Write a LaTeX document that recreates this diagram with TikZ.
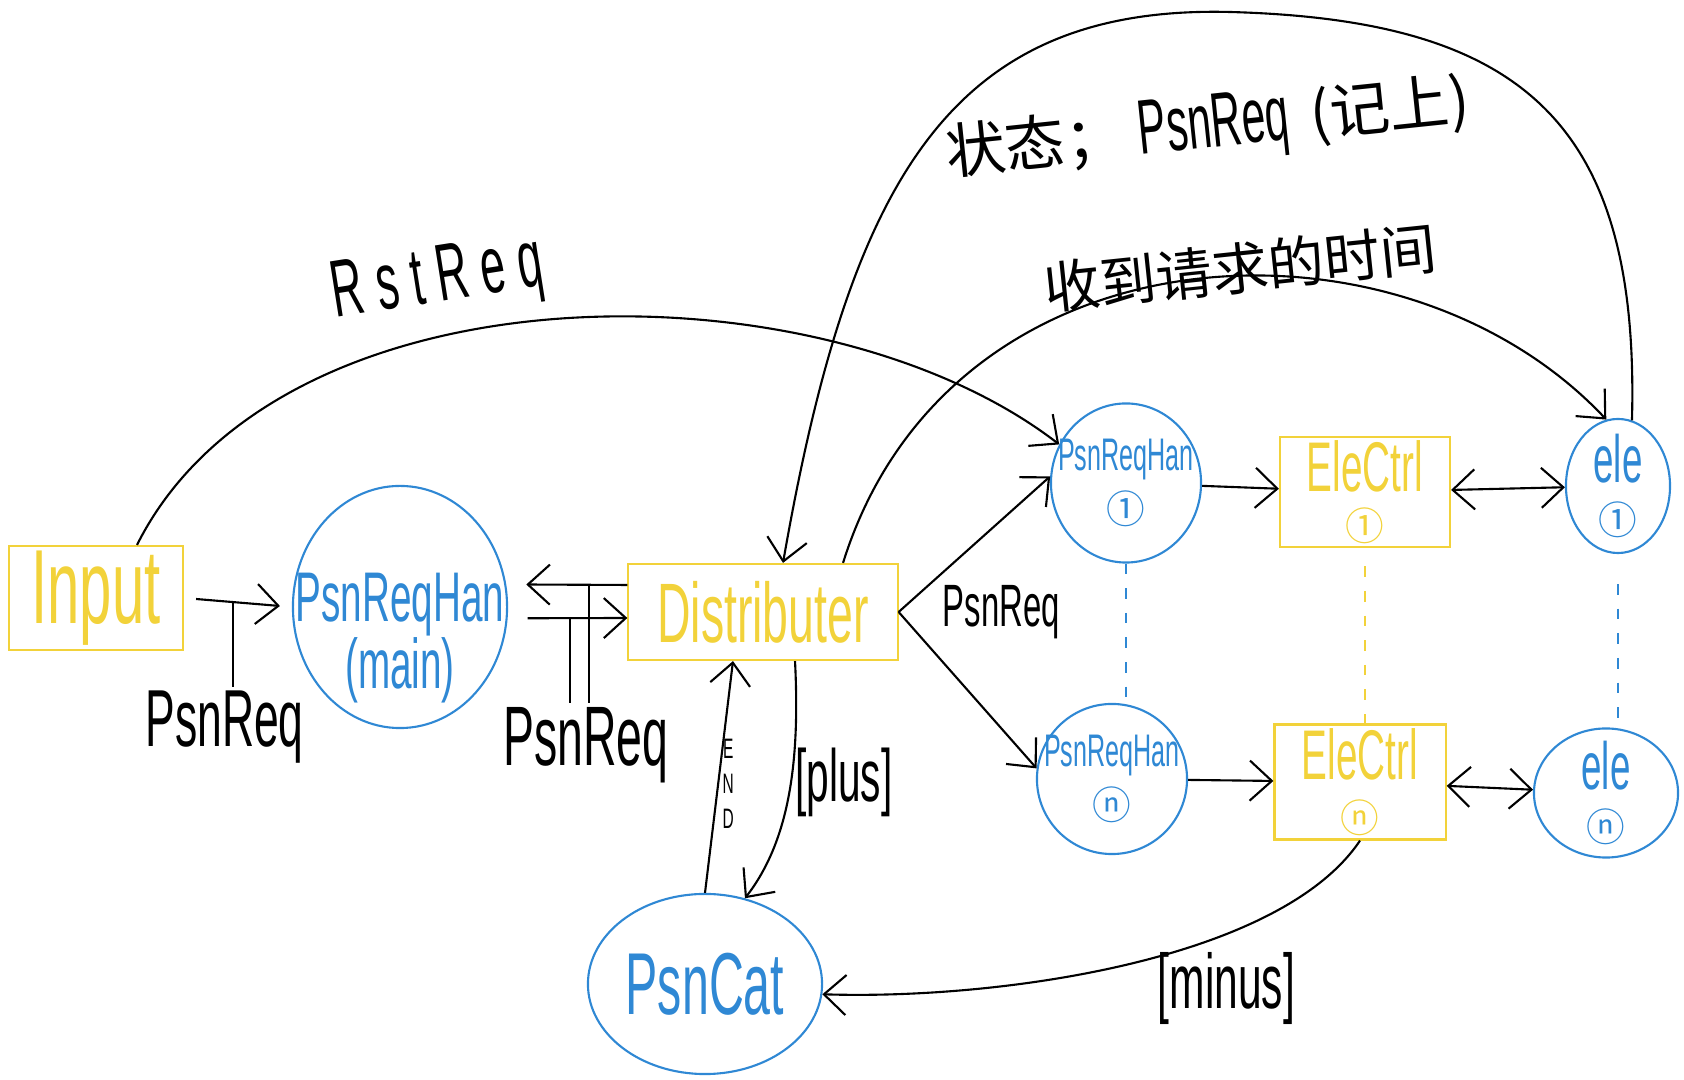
\documentclass[tikz,border=0pt]{standalone}
\usepackage{fontspec}
\setmainfont[FakeStretch=0.55]{Liberation Sans}
\newfontfamily\cjk{Noto Sans CJK SC}
\usepackage{tikz}
\usetikzlibrary{positioning, arrows.meta, shapes.geometric, calc}
\definecolor{penyellow}{HTML}{F2D23A}
\definecolor{penblue}{HTML}{2F88D4}
\newcommand{\circone}{{\cjk\fontsize{11}{11}\selectfont ①}}
\newcommand{\circn}{{\cjk\fontsize{11}{11}\selectfont ⓝ}}
\tikzset{
  box/.style    = {rectangle, draw=penyellow, text=penyellow, line width=0.6pt,
                   inner sep=1pt, align=center},
  bubble/.style = {ellipse, draw=penblue, text=penblue, line width=0.6pt,
                   inner sep=-2cm, align=center},
  lbl/.style    = {inner sep=1pt, align=center},
  arr/.style    = {-{Straight Barb[length=2.2mm,width=4mm]}, line width=0.6pt},
  darr/.style   = {{Straight Barb[length=2.2mm,width=4mm]}-{Straight Barb[length=2.2mm,width=4mm]},
                   line width=0.6pt},
  stem/.style   = {line width=0.6pt},
  dots/.style   = {dashed, dash pattern=on 3pt off 4pt, line width=0.5pt},
}

\begin{document}
\begin{tikzpicture}[x=0.01cm, y=-0.01cm]
  \useasboundingbox (0,0) rectangle (1684,1080);

  % Main chain: input -> main handler -> distributer
  \node[box, minimum width=1.74cm, minimum height=1.04cm, font=\fontsize{30}{32}\selectfont]
       (input) at (96,598) {Input};
  \node[bubble, minimum width=2.14cm, minimum height=2.42cm, font=\fontsize{20}{19}\selectfont]
       (main) at (400,607) {\rule{0pt}{1.1cm}PsnReqHan\\(main)};
  \node[box, minimum width=2.69cm, minimum height=0.96cm, font=\fontsize{24}{26}\selectfont]
       (dist) at (763,612) {Distributer};
  \node[bubble, minimum width=2.34cm, minimum height=1.8cm, font=\fontsize{25}{27}\selectfont]
       (cat) at (705,984) {PsnCat};

  % Handler rows 1 .. n
  \node[bubble, minimum width=1.5cm, minimum height=1.59cm, font=\fontsize{13}{15}\selectfont]
       (han1) at (1126,483) {PsnReqHan\\\circone};
  \node[bubble, minimum width=1.5cm, minimum height=1.5cm, font=\fontsize{13}{15}\selectfont]
       (hanN) at (1112,779) {PsnReqHan\\\circn};
  \node[box, minimum width=1.7cm, minimum height=1.08cm, font=\fontsize{20}{14}\selectfont]
       (ctrl1) at (1365,492) {EleCtrl\\\circone};
  \node[box, minimum width=1.71cm, minimum height=1.15cm, font=\fontsize{20}{15}\selectfont]
       (ctrlN) at (1360,782) {EleCtrl\\\circn};
  \node[bubble, minimum width=1.04cm, minimum height=1.34cm, font=\fontsize{19}{15}\selectfont]
       (ele1) at (1618,486) {ele\\\circone};
  \node[bubble, minimum width=1.44cm, minimum height=1.29cm, font=\fontsize{19}{15}\selectfont]
       (eleN) at (1606,793) {ele\\\circn};

  % Input -> main
  \draw[arr, shorten <=0.12cm, shorten >=0.12cm] (input.east) -- coordinate[pos=0.45] (s1) (main.west);
  \node[lbl, below=0.85cm of s1, xshift=-0.08cm, font=\fontsize{23}{24}\selectfont] (req1) {PsnReq};
  \draw[stem] (s1) -- (s1 |- req1.north);

  % main <-> distributer
  \draw[arr, shorten >=0.2cm] ([yshift=0.27cm]dist.west) -- coordinate[pos=0.32] (s2) (main.12);
  \draw[arr, shorten <=0.2cm] (main.-6) -- coordinate[pos=0.52] (s3) ([yshift=-0.06cm]dist.west);
  \node[lbl, below=0.85cm of s3, xshift=0.16cm, font=\fontsize{24}{24}\selectfont] (req2) {PsnReq};
  \draw[stem] (s2) -- (s2 |- req2.north);
  \draw[stem] (s3) -- (s3 |- req2.north);

  % distributer -> handlers
  \draw[arr] (dist.east) -- (han1.175);
  \draw[arr] (dist.east) -- (hanN.172);
  \node[lbl, right=0.4cm of dist.east, font=\fontsize{17}{18}\selectfont] (req3) {PsnReq};

  \draw[arr] (han1) -- (ctrl1);
  \draw[darr] (ctrl1) -- (ele1);
  \draw[arr] (hanN) -- (ctrlN);
  \draw[darr] (ctrlN) -- (eleN);

  \draw[dots, penblue] (han1.south) -- (han1.south |- hanN.north);
  \draw[dots, penyellow, shorten <=0.18cm] (ctrl1.south) -- (ctrl1.south |- ctrlN.north);
  \draw[dots, penblue, shorten <=0.3cm] (ele1.south) -- (ele1.south |- eleN.north);

  % Long arcs
  \draw[arr] ([xshift=0.41cm]input.north) .. controls (280,260) and (820,260) .. (han1.150);
  \node[lbl, rotate=9, font=\fontsize{23}{25}\selectfont\addfontfeature{LetterSpace=16}]
       (rst) at (438,282) {RstReq};

  \draw[arr] ([xshift=0.8cm]dist.north) .. controls (950,220) and (1400,200) .. (ele1.100);
  \node[lbl, rotate=6, font=\cjk\fontsize{16}{18}\selectfont] (time) at (1240,268) {收到请求的时间};

  \coordinate (arctop) at (1230,12);
  \draw[arr] (ele1.78) .. controls (1640,120) and (1520,20) .. (arctop)
             .. controls (950,5) and (850,180) .. ([xshift=0.2cm]dist.north);
  \node[lbl, rotate=6, font=\fontsize{22}{24}\selectfont] (state) at (1208,129)
       {{\cjk\fontsize{17}{18}\selectfont 状态；}\hspace{4pt}PsnReq\hspace{6pt}{\cjk\fontsize{17}{18}\selectfont (记上)}};

  % PsnCat loop
  \draw[arr] (cat.north) -- node[lbl, right, pos=0.47, font=\fontsize{8}{10}\selectfont] (endlbl)
       {E\\N\\D} ([xshift=-0.3cm]dist.south);
  \draw[arr] ([xshift=0.32cm]dist.south) .. controls (800,760) and (790,840) .. node[lbl, right, pos=0.45,
       font=\fontsize{21}{22}\selectfont] (plus) {[plus]} (cat.65);
  \draw[arr] (ctrlN.south) .. controls (1280,960) and (1000,1000) .. node[lbl, below=4pt, pos=0.33,
       font=\fontsize{22}{24}\selectfont] (minus) {[minus]} (cat.-5);

\end{tikzpicture}
\end{document}
